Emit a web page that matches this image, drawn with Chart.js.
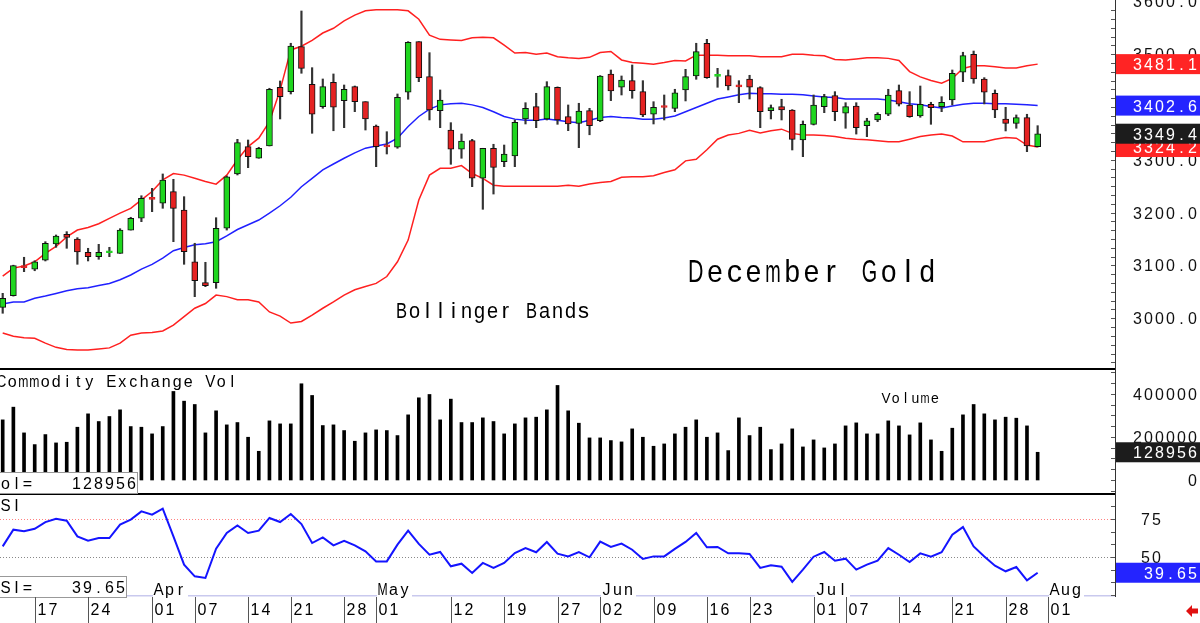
<!DOCTYPE html>
<html>
<head>
<meta charset="utf-8">
<script src="https://cdn.jsdelivr.net/npm/chart.js@4.4.1/dist/chart.umd.min.js"></script>
<style>
  html, body { margin: 0; padding: 0; background: #fff; overflow: hidden; }
  #wrap { position: relative; width: 1200px; height: 623px; }
  canvas { position: absolute; left: 0; }
</style>
</head>
<body>
<div id="wrap">
  <canvas id="price" width="1200" height="368" style="top:0"></canvas>
  <canvas id="vol" width="1200" height="127" style="top:368px"></canvas>
  <canvas id="rsi" width="1200" height="128" style="top:495px"></canvas>
</div>
<script>
// trading sessions, Mar 12 – Jul 31 (2025)
const dates = ['03-12','03-13','03-14','03-17','03-18','03-19','03-20','03-21','03-24','03-25','03-26','03-27','03-28','03-31',
  '04-01','04-02','04-03','04-04','04-07','04-08','04-09','04-10','04-11','04-14','04-15','04-16','04-17','04-21','04-22','04-23','04-24','04-25','04-28','04-29','04-30',
  '05-01','05-02','05-05','05-06','05-07','05-08','05-09','05-12','05-13','05-14','05-15','05-16','05-19','05-20','05-21','05-22','05-23','05-27','05-28','05-29','05-30',
  '06-02','06-03','06-04','06-05','06-06','06-09','06-10','06-11','06-12','06-13','06-16','06-17','06-18','06-20','06-23','06-24','06-25','06-26','06-27','06-30',
  '07-01','07-02','07-03','07-07','07-08','07-09','07-10','07-11','07-14','07-15','07-16','07-17','07-18','07-21','07-22','07-23','07-24','07-25','07-28','07-29','07-30','07-31'];
const nextSessions = ['08-01'];
const axisDates = dates.concat(nextSessions);

const open = [3020.8,3042.8,3098.0,3092.8,3109.8,3140.6,3159.0,3150.1,3124.9,3116.6,
  3124.0,3123.0,3167.0,3189.3,3227.0,3217.7,3239.7,3205.0,3107.1,3067.4,
  3067.4,3170.4,3273.2,3324.8,3302.9,3326.2,3437.3,3429.0,3514.1,3443.0,
  3400.6,3446.7,3412.0,3438.4,3410.0,3364.0,3326.0,3323.7,3427.8,3523.6,
  3457.4,3393.0,3356.5,3320.0,3336.2,3265.0,3321.8,3296.5,3307.2,3377.3,
  3400.6,3377.3,3437.3,3381.6,3369.1,3393.0,3374.0,3462.5,3437.3,3449.8,
  3429.0,3386.2,3400.0,3397.5,3432.2,3458.7,3520.6,3458.0,3459.3,3440.0,
  3453.0,3436.5,3393.0,3400.6,3394.3,3337.5,3367.2,3400.6,3421.4,3388.1,
  3401.9,3364.6,3375.4,3386.2,3430.9,3403.8,3383.0,3405.1,3400.6,3413.2,
  3465.7,3499.8,3453.0,3425.9,3377.3,3369.1,3379.7,3324.8];
const high = [3047.3,3100.5,3115.5,3109.0,3145.0,3157.7,3164.0,3152.6,3132.5,3140.0,
  3134.4,3169.6,3191.2,3232.0,3246.0,3273.2,3263.1,3230.2,3142.0,3106.0,
  3190.4,3269.4,3338.8,3337.5,3323.7,3435.4,3449.2,3520.6,3581.7,3474.4,
  3453.0,3462.5,3441.6,3439.7,3410.0,3365.9,3353.2,3424.6,3523.7,3523.7,
  3502.8,3432.2,3370.3,3348.9,3338.8,3321.8,3329.4,3328.0,3375.4,3408.1,
  3425.9,3447.9,3438.0,3403.8,3407.0,3397.5,3459.5,3470.0,3458.7,3479.5,
  3449.8,3410.0,3422.7,3433.5,3471.3,3520.6,3528.1,3473.2,3470.0,3449.8,
  3460.0,3438.4,3403.8,3414.6,3395.0,3373.5,3422.7,3424.0,3429.0,3408.1,
  3408.1,3378.6,3389.2,3433.5,3441.6,3429.0,3439.7,3408.9,3419.5,3470.0,
  3503.6,3505.9,3455.5,3432.2,3399.4,3384.9,3386.2,3364.6];
const low = [3009.5,3042.0,3088.2,3090.0,3108.5,3134.4,3132.5,3102.2,3108.5,3111.7,
  3116.6,3123.0,3167.0,3182.9,3201.8,3208.2,3145.0,3102.2,3040.9,3059.8,
  3056.8,3167.0,3271.3,3285.1,3302.9,3326.2,3377.3,3424.6,3463.8,3350.2,
  3397.5,3355.0,3360.8,3391.1,3356.4,3287.0,3311.0,3321.8,3414.6,3447.9,
  3375.4,3360.8,3291.5,3302.9,3249.1,3206.3,3235.2,3287.0,3287.0,3367.8,
  3360.8,3375.4,3367.2,3355.1,3323.0,3347.4,3372.2,3412.0,3422.7,3416.5,
  3381.6,3367.8,3375.4,3391.1,3411.4,3452.4,3454.3,3437.3,3432.2,3408.1,
  3415.1,3360.8,3377.3,3375.4,3318.6,3305.9,3365.9,3389.2,3374.0,3359.7,
  3348.7,3343.8,3372.2,3383.5,3401.9,3380.5,3380.5,3367.2,3391.1,3403.8,
  3447.9,3444.9,3405.7,3379.7,3354.6,3359.7,3315.4,3324.3];
const close = [3037.9,3099.6,3096.0,3107.1,3142.0,3155.8,3153.3,3125.5,3116.6,3124.9,
  3124.5,3167.0,3189.3,3227.2,3225.0,3261.8,3208.2,3126.1,3071.2,3061.7,
  3170.4,3268.0,3332.4,3305.9,3321.8,3433.5,3419.5,3515.5,3473.2,3386.2,
  3438.4,3399.4,3433.5,3410.0,3377.3,3324.8,3324.5,3418.4,3522.5,3455.5,
  3394.3,3413.2,3320.0,3335.6,3265.0,3321.8,3285.8,3311.0,3371.0,3397.5,
  3374.0,3438.4,3375.4,3367.8,3392.4,3364.6,3458.7,3430.3,3451.1,3430.9,
  3384.9,3399.4,3399.0,3427.0,3457.4,3504.7,3455.5,3460.0,3439.7,3438.0,
  3437.3,3391.1,3398.7,3394.3,3338.8,3367.2,3403.8,3419.5,3391.1,3400.6,
  3360.8,3374.0,3386.2,3422.7,3405.1,3381.6,3405.1,3398.7,3408.9,3463.8,
  3497.1,3453.0,3427.8,3394.3,3369.1,3379.7,3326.2,3349.4];

const bbUpper = [3080,3095,3099,3107,3123,3136,3154,3167,3172,3179,
  3189,3199,3208,3224,3240,3262,3274,3271,3265,3259,
  3254,3271,3300,3325,3341,3372,3432,3508,3515,3526,
  3540,3549,3563,3574,3582,3584,3584,3584,3582,3566,
  3536,3528,3527,3526,3531,3532,3531,3517,3502,3503,
  3500,3502,3495,3493,3492,3494,3503,3505,3489,3484,
  3483,3481,3484,3488,3487,3498,3498,3498,3497,3497,
  3497,3495,3495,3495,3500,3500,3498,3497,3490,3489,
  3491,3493,3493,3492,3488,3467,3457,3450,3445,3454,
  3473,3478,3478,3476,3474,3474,3478,3481.1];
const bbMid = [3027,3031,3031,3038,3042,3047,3052,3056,3058,3062,
  3066,3073,3082,3093,3102,3114,3128,3134,3139,3141,
  3145,3156,3168,3177,3186,3199,3213,3229,3249,3265,
  3281,3292,3303,3313,3322,3326,3330,3341,3363,3382,
  3396,3404,3406,3407,3404,3399,3391,3382,3377,3375,
  3375,3377,3375,3372,3370,3375,3380,3382,3380,3379,
  3377,3377,3379,3383,3391,3399,3407,3415,3419,3423,
  3426,3425,3425,3424,3424,3423,3421,3419,3418,3415,
  3415,3415,3415,3413,3410,3406,3404,3401,3398,3402,
  3405,3407,3407,3406,3406,3405,3404,3402.6];
const bbLower = [2972,2966,2963,2962,2953,2945,2941,2940,2940,2942,
  2944,2953,2968,2972,2973,2976,2987,3003,3019,3028,
  3044,3041,3035,3035,3031,3012,3004,2991,2994,3006,
  3019,3031,3044,3054,3060,3066,3079,3107,3148,3224,
  3271,3284,3284,3289,3274,3265,3252,3250,3250,3250,
  3250,3250,3250,3252,3250,3254,3257,3259,3267,3268,
  3268,3270,3276,3281,3298,3301,3319,3339,3347,3350,
  3356,3351,3355,3358,3350,3347,3347,3346,3344,3341,
  3339,3338,3336,3334,3334,3339,3344,3347,3349,3345,
  3334,3334,3334,3339,3342,3341,3328,3324.2];

const volume = [279700,338800,219100,164700,211300,172500,175600,245500,307700,272000,
  295300,326300,248600,245500,214500,248600,411800,366700,351200,219100,
  321700,256400,267300,198900,133600,275000,261000,261000,447600,393200,
  253300,256400,230000,180300,219100,233100,230000,206700,303000,382300,
  397800,279700,376100,267300,267300,289000,272000,214500,261000,289000,
  292200,326300,439800,321700,264200,195800,195800,183400,177200,237800,
  198900,157000,167800,214500,245500,279700,198900,219100,136800,289000,
  206700,245500,141400,167800,237800,153800,186500,149200,167800,251700,
  265700,214500,214500,275000,251700,209800,265700,186500,133600,240900,
  303000,351200,307700,279700,292200,287500,251700,128956];

const rsi = [57.0,68.0,66.9,68.6,73.0,75.2,73.9,63.6,60.7,62.5,
  62.5,71.3,74.6,80.0,77.9,81.8,63.6,45.0,37.3,36.2,
  55.5,65.8,70.8,65.8,67.3,75.7,73.0,78.3,71.7,59.2,
  62.9,57.7,60.7,57.7,53.7,47.1,47.1,58.1,67.3,58.6,
  51.5,53.3,43.9,45.6,39.5,46.1,42.8,46.1,52.6,55.9,
  53.1,59.9,52.2,50.4,53.3,49.8,60.1,56.6,58.8,54.8,
  48.7,50.4,50.4,55.3,59.9,65.8,56.4,56.6,52.4,52.4,
  52.0,42.8,44.5,43.6,33.6,41.7,50.2,53.3,47.6,48.9,
  41.7,45.0,47.6,55.9,51.5,46.7,52.4,50.2,53.1,64.7,
  69.7,57.0,50.4,44.3,40.6,43.4,34.6,39.65];

const priceTicks = [3000, 3100, 3200, 3300, 3400, 3500, 3600];
const volTicks = [0, 200000, 400000];
const rsiTicks = [50, 75];
const dayTicks = [['03-17','17'],['03-24','24'],['04-01','01'],['04-07','07'],['04-14','14'],['04-21','21'],['04-28','28'],
  ['05-01','01'],['05-12','12'],['05-19','19'],['05-27','27'],['06-02','02'],['06-09','09'],['06-16','16'],['06-23','23'],
  ['07-01','01'],['07-07','07'],['07-14','14'],['07-21','21'],['07-28','28'],['08-01','01']];
const monthTicks = [['04-01','Apr'],['05-01','May'],['06-02','Jun'],['07-01','Jul'],['08-01','Aug']];

const GREEN = '#1fd61f', RED = '#e52222';
const FONT = '"Liberation Sans", Arial, sans-serif';
const X_MIN = -0.253, X_MAX = 104.25;
const last = close.length - 1;
const idx = dates.map((d, i) => i);

// text in fixed-width cells, each glyph centred (and squeezed if too wide)
function cells(ctx, s, x, y, size, pitch, color, align, fill) {
  ctx.save();
  ctx.font = size + 'px ' + FONT;
  ctx.fillStyle = color || '#000';
  ctx.textAlign = 'center';
  ctx.textBaseline = 'alphabetic';
  const start = align === 'right' ? x - s.length * pitch : x;
  const maxW = pitch * (fill || 0.92);
  [...s].forEach((ch, k) => {
    if (ch === ' ') return;
    const w = ctx.measureText(ch).width;
    ctx.save();
    ctx.translate(start + (k + 0.5) * pitch, y);
    ctx.scale(Math.min(1, maxW / w), 1);
    ctx.fillText(ch, 0, 0);
    ctx.restore();
  });
  ctx.restore();
}
const small = (ctx, s, x, y, color, align) => cells(ctx, s, x, y, 16, 11, color, align);

function axisBox(chart, py, s, color) {
  const ctx = chart.ctx, x0 = chart.chartArea.right + 1;
  ctx.fillStyle = color;
  ctx.fillRect(x0, py - 10, chart.width - x0, 20);
  small(ctx, s, 1198, py + 6, '#fff', 'right');
}

function axisTicks(chart, scale, step, from, to) {
  const ctx = chart.ctx, x = chart.chartArea.right;
  ctx.save();
  ctx.strokeStyle = '#555';
  ctx.lineWidth = 1;
  ctx.beginPath();
  for (let v = from; v <= to + 1e-6; v += step) {
    const p = Math.round(scale.getPixelForValue(v)) + 0.5;
    ctx.moveTo(x - 4, p);
    ctx.lineTo(x, p);
  }
  ctx.stroke();
  ctx.restore();
}

function baseOptions(yMin, yMax, padBottom) {
  return {
    responsive: false,
    animation: false,
    devicePixelRatio: 1,
    events: [],
    layout: { padding: { left: 0, right: 0, top: 0, bottom: padBottom } },
    plugins: { legend: { display: false }, tooltip: { enabled: false } },
    scales: {
      x: { type: 'linear', display: false, offset: false, min: X_MIN, max: X_MAX },
      y: {
        position: 'right', min: yMin, max: yMax,
        grid: { display: false },
        ticks: { display: false },
        border: { display: true, color: '#333', width: 1 },
        afterFit: s => { s.width = 85; }
      }
    }
  };
}

// ---------- price panel ----------
const isUp = i => close[i] >= open[i];
const pricePanel = {
  id: 'pricePanel',
  afterDraw(chart) {
    const ctx = chart.ctx, y = chart.scales.y;
    axisTicks(chart, y, 100 / 6, 2916.67, 3600);
    priceTicks.forEach(v => small(ctx, v.toFixed(1), 1198, y.getPixelForValue(v) + 6, '#111', 'right'));
    axisBox(chart, y.getPixelForValue(bbUpper[last]), bbUpper[last].toFixed(1), '#ff2424');
    axisBox(chart, y.getPixelForValue(bbMid[last]), bbMid[last].toFixed(1), '#2424ff');
    axisBox(chart, y.getPixelForValue(bbLower[last]), bbLower[last].toFixed(1), '#ff2424');
    axisBox(chart, y.getPixelForValue(close[last]), close[last].toFixed(1), '#1c1c1c');
    cells(ctx, 'December Gold', 686, 282, 30.5, 19.3, '#000', 'left', 0.8);
    cells(ctx, 'Bollinger Bands', 395, 318, 22, 13, '#000', 'left', 0.85);
  }
};

const line = (arr, color) => ({
  type: 'line', data: idx.map(i => ({ x: i, y: arr[i] })), borderColor: color,
  borderWidth: 1.5, pointRadius: 0, tension: 0, order: 2
});

new Chart(document.getElementById('price'), {
  type: 'bar',
  data: {
    datasets: [
      {
        data: idx.map(i => ({ x: i, y: [open[i], close[i]] })),
        backgroundColor: c => isUp(c.dataIndex) ? GREEN : RED,
        borderColor: c => Math.abs(open[c.dataIndex] - close[c.dataIndex]) < 2.5 ? (isUp(c.dataIndex) ? GREEN : RED) : '#111',
        borderWidth: 1, borderSkipped: false, barThickness: 6, minBarLength: 2, grouped: false, order: 0
      },
      {
        data: idx.map(i => ({ x: i, y: [low[i], high[i]] })),
        backgroundColor: '#333', barThickness: 1.5, grouped: false, order: 1
      },
      line(bbUpper, '#ff2020'),
      line(bbMid, '#2020ff'),
      line(bbLower, '#ff2020')
    ]
  },
  options: baseOptions(2905.9, 3602.5, 0),
  plugins: [pricePanel]
});

// ---------- volume panel ----------
const volPanel = {
  id: 'volPanel',
  afterDraw(chart) {
    const ctx = chart.ctx, y = chart.scales.y, right = chart.chartArea.right;
    ctx.fillStyle = '#000';
    ctx.fillRect(0, 0, right, 2);
    ctx.fillRect(0, 125, right, 2);
    small(ctx, 'Commodity Exchange Vol', -4.3, 19, '#000');
    cells(ctx, 'Volume', 881, 35, 14, 9.8, '#000');
    ctx.fillStyle = '#fff';
    ctx.fillRect(-1, 104, 139, 21);
    ctx.strokeStyle = '#999';
    ctx.lineWidth = 1;
    ctx.strokeRect(-0.5, 104.5, 138, 21);
    small(ctx, 'Vol=', -11, 121, '#000');
    small(ctx, String(volume[last]), 137, 121, '#000', 'right');
    axisTicks(chart, y, 50000, -50000, 500000);
    volTicks.forEach(v => small(ctx, String(v), 1198, y.getPixelForValue(v) + 6, '#111', 'right'));
    axisBox(chart, y.getPixelForValue(volume[last]), String(volume[last]), '#1c1c1c');
  }
};

new Chart(document.getElementById('vol'), {
  type: 'bar',
  data: {
    datasets: [{
      data: idx.map(i => ({ x: i, y: volume[i] })),
      backgroundColor: '#000', barThickness: 3, grouped: false
    }]
  },
  options: baseOptions(-69770, 520930, 0),
  plugins: [volPanel]
});

// ---------- RSI panel + date axis ----------
const rsiPanel = {
  id: 'rsiPanel',
  beforeDatasetsDraw(chart) {
    const ctx = chart.ctx, y = chart.scales.y, right = chart.chartArea.right;
    ctx.save();
    ctx.lineWidth = 1;
    ctx.setLineDash([1, 2]);
    [[75, '#ff8080'], [50, '#888']].forEach(([v, col]) => {
      const p = Math.round(y.getPixelForValue(v)) + 0.5;
      ctx.strokeStyle = col;
      ctx.beginPath(); ctx.moveTo(0, p); ctx.lineTo(right, p); ctx.stroke();
    });
    ctx.restore();
  },
  afterDraw(chart) {
    const ctx = chart.ctx, y = chart.scales.y, x = chart.scales.x;
    const right = chart.chartArea.right, bottom = chart.chartArea.bottom;
    small(ctx, 'RSI', -11, 16, '#000');
    ctx.fillStyle = '#c9c9ee';
    ctx.fillRect(0, bottom - 1, right, 1.5);
    ctx.fillStyle = '#fff';
    ctx.fillRect(-1, 81, 128, 21);
    ctx.strokeStyle = '#999';
    ctx.lineWidth = 1;
    ctx.strokeRect(-0.5, 81.5, 127, 21);
    small(ctx, 'RSI=', -11, 98, '#000');
    small(ctx, rsi[last].toFixed(2), 126, 98, '#000', 'right');

    axisTicks(chart, y, 25 / 3, 25, 90);
    rsiTicks.forEach(v => small(ctx, String(v), 1140, y.getPixelForValue(v) + 6, '#111'));
    axisBox(chart, y.getPixelForValue(rsi[last]), rsi[last].toFixed(2), '#2424ff');

    ctx.save();
    ctx.strokeStyle = '#555';
    ctx.lineWidth = 1;
    dayTicks.forEach(([d, s]) => {
      const px = Math.round(x.getPixelForValue(axisDates.indexOf(d))) + 0.5;
      ctx.beginPath(); ctx.moveTo(px, bottom + 1); ctx.lineTo(px, 128); ctx.stroke();
      small(ctx, s, px + 1, 120, '#000');
    });
    ctx.restore();
    monthTicks.forEach(([d, s]) => {
      const px = Math.round(x.getPixelForValue(axisDates.indexOf(d)));
      ctx.fillStyle = '#fff';
      ctx.fillRect(px + 1, 84, 35, bottom - 84 + 1);
      small(ctx, s, px + 1, 99.5, '#000');
    });

    // small red arrow at the bottom right
    ctx.fillStyle = '#e01010';
    ctx.beginPath();
    ctx.moveTo(1186, 116);
    ctx.lineTo(1192, 110);
    ctx.lineTo(1192, 113.5);
    ctx.lineTo(1198, 113.5);
    ctx.lineTo(1198, 118.5);
    ctx.lineTo(1192, 118.5);
    ctx.lineTo(1192, 122);
    ctx.closePath();
    ctx.fill();
  }
};

new Chart(document.getElementById('rsi'), {
  type: 'line',
  data: {
    datasets: [{
      data: idx.map(i => ({ x: i, y: rsi[i] })),
      borderColor: '#1414ff', borderWidth: 2, pointRadius: 0, tension: 0
    }]
  },
  options: baseOptions(24.34, 90.8, 27),
  plugins: [rsiPanel]
});
</script>
</body>
</html>
